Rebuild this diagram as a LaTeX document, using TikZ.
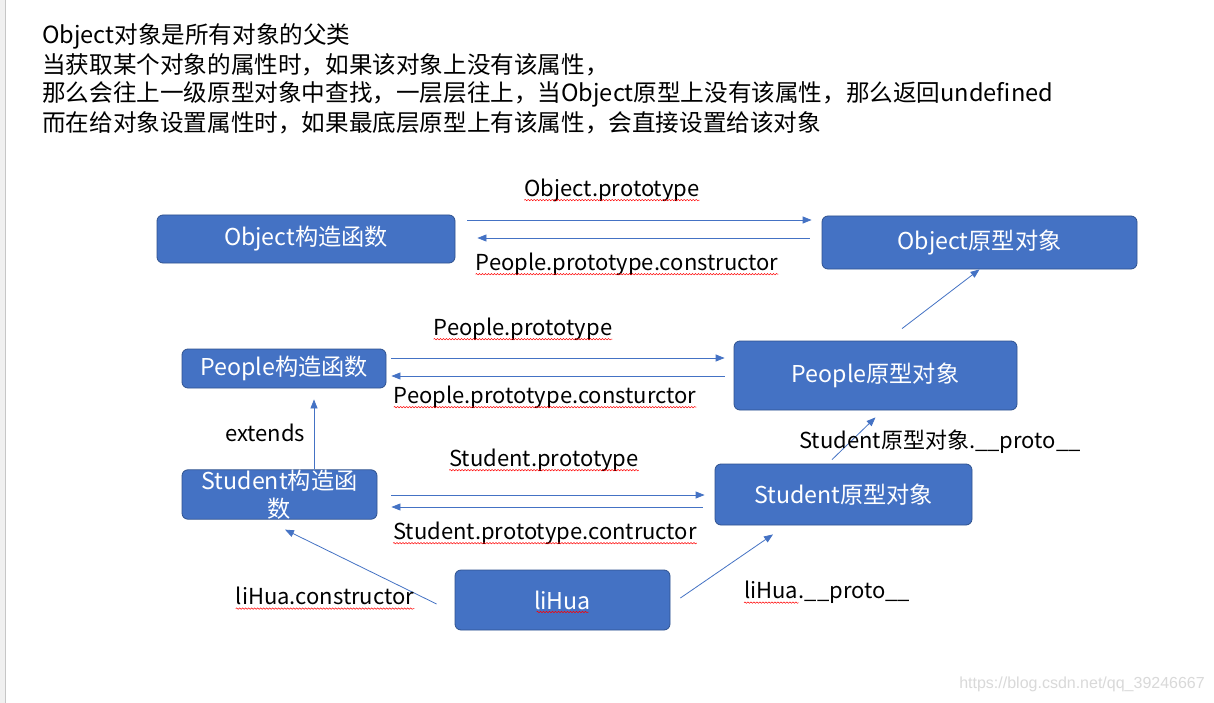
\documentclass[tikz,border=0pt]{standalone}
\usepackage{fontspec}
\setmainfont{Noto Sans CJK SC}
\newfontfamily\wmfont{Liberation Sans}
\usetikzlibrary{arrows.meta,decorations.pathmorphing}
\definecolor{boxblue}{HTML}{4472C4}
\definecolor{boxedge}{HTML}{2F528F}
\definecolor{arrblue}{HTML}{4472C4}
\begin{document}
\begin{tikzpicture}[x=1pt,y=-1pt,
  box/.style={draw=boxedge,line width=0.8pt,fill=boxblue,rounded corners=6pt,text=white,font=\fontsize{23.2}{28}\selectfont,inner sep=0pt,align=center},
  lbl/.style={font=\fontsize{22}{28}\selectfont,inner sep=0pt},
  toptext/.style={font=\fontsize{23.6}{29}\selectfont,inner sep=0pt,anchor=west},
  arr/.style={draw=arrblue,line width=0.8pt,-{Triangle[length=9pt,width=7pt]}},
  squig/.style={draw=red,line width=0.5pt,decorate,decoration={snake,amplitude=0.7pt,segment length=3pt}}]
\useasboundingbox (0,0) rectangle (1214,703);
\fill[white] (0,0) rectangle (1214,703);
\fill[gray!12] (0,0) rectangle (5,703);
\draw[gray!45,line width=0.8pt] (5.5,0) -- (5.5,703);

% top text
\node[toptext] (t1) at (42,36) {Object对象是所有对象的父类};
\node[toptext] (t2) at (42,65) {当获取某个对象的属性时，如果该对象上没有该属性，};
\node[toptext] (t3) at (42,94) {那么会往上一级原型对象中查找，一层层往上，当Object原型上没有该属性，那么返回undefined};
\node[toptext] (t4) at (42,123) {而在给对象设置属性时，如果最底层原型上有该属性，会直接设置给该对象};

% boxes
\node[box,minimum width=298pt,minimum height=48pt] (objc) at (306,239) {\raisebox{-2pt}{Object构造函数}};
\node[box,minimum width=315pt,minimum height=53pt] (objp) at (979.5,242.5) {\raisebox{-2pt}{Object原型对象}};
\node[box,minimum width=204pt,minimum height=39pt] (ppc) at (284,368.5) {\raisebox{-1pt}{People构造函数}};
\node[box,minimum width=283pt,minimum height=69pt] (ppp) at (875.5,375.5) {\raisebox{-2pt}{People原型对象}};
\node[box,minimum width=195pt,minimum height=49pt] (stc) at (279.5,494.5) {Student构造函\\数};
\node[box,minimum width=257pt,minimum height=61pt] (stp) at (843.5,494.5) {\raisebox{-1pt}{Student原型对象}};
\node[box,minimum width=215pt,minimum height=60pt] (lh) at (562.5,600) {liHua};

% arrows
\draw[arr] ([shift={(12,-19)}]objc.east) -- ([shift={(-10,-22.5)}]objp.west);
\draw[arr] ([shift={(-12,-4.5)}]objp.west) -- ([shift={(22,-1)}]objc.east);
\draw[arr] ([shift={(5,-10.5)}]ppc.east) -- ([shift={(-9,-17.5)}]ppp.west);
\draw[arr] ([shift={(-9,0.5)}]ppp.west) -- ([shift={(5,7.5)}]ppc.east);
\draw[arr] ([shift={(26.5,-12)}]ppp.north) -- (objp.south);
\draw[arr] ([shift={(14,0.5)}]stc.east) -- ([shift={(-10,0.5)}]stp.west);
\draw[arr] ([shift={(-12,12.5)}]stp.west) -- ([shift={(14,12.5)}]stc.east);
\draw[arr] ([shift={(34.5,0)}]stc.north) -- ([shift={(30,11)}]ppc.south);
\draw[arr] ([shift={(-11.5,-4)}]stp.north) -- ([shift={(0,7)}]ppp.south);
\draw[arr] ([shift={(-18,4)}]lh.west) -- ([shift={(5.5,10)}]stc.south);
\draw[arr] ([shift={(10,-2)}]lh.east) -- ([shift={(-70.5,9)}]stp.south);

% labels
\node[lbl] (l1) at (612,190) {Object.prototype};
\node[lbl] (l2) at (627,264) {People.prototype.constructor};
\node[lbl] (l3) at (523,329) {People.prototype};
\node[lbl] (l4) at (545,397) {People.prototype.consturctor};
\node[lbl] (l5) at (544,460) {Student.prototype};
\node[lbl] (l6) at (545,533) {Student.prototype.contructor};
\node[lbl] (l7) at (265,433) {extends};
\node[lbl] (l8) at (940,442) {Student原型对象.\_\_proto\_\_};
\node[lbl] (l9) at (325,596) {liHua.constructor};
\node[lbl,anchor=west] (l10a) at (744,590) {liHua};
\node[lbl,anchor=base west] (l10b) at (l10a.base east) {.\_\_proto\_\_};

% spell-check underlines
\foreach \n in {l1,l2,l3,l4,l5,l6,l9,l10a}{
  \draw[squig] ([yshift=-4pt]\n.base west) -- ([yshift=-4pt]\n.base east);
}
\draw[squig] ([shift={(-26,12)}]lh.center) -- ([shift={(26,12)}]lh.center);

% watermark
\node[font=\wmfont\fontsize{16}{18}\selectfont,text=gray!30,anchor=east,inner sep=0pt] (wm) at (1205,684) {https://blog.csdn.net/qq\_39246667};
\end{tikzpicture}
\end{document}
